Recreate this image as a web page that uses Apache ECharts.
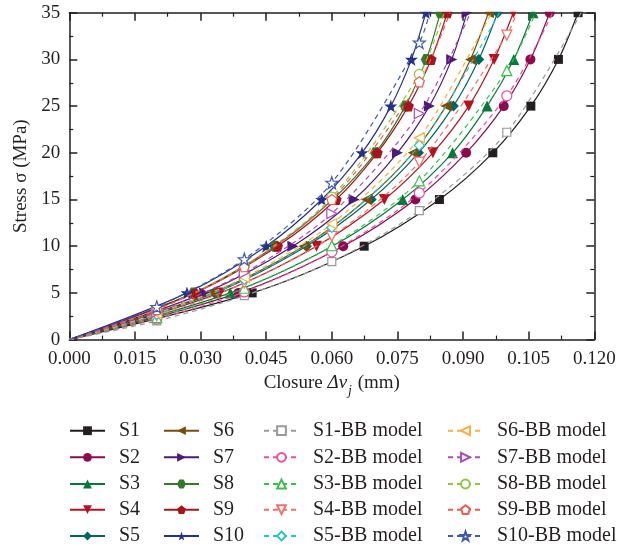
<!DOCTYPE html>
<html>
<head>
<meta charset="utf-8">
<script src="https://cdn.jsdelivr.net/npm/echarts@6/dist/echarts.min.js"></script>
<style>
  html, body { margin: 0; padding: 0; background: #ffffff; }
  #chart { width: 618px; height: 552px; }
</style>
</head>
<body>
<div id="chart"></div>
<script>
// Measured closure (mm) at each stress level (MPa) for the ten samples
const stressLevels = [0, 5, 10, 15, 20, 25, 30, 35];
const closureS1  = [0, 0.0418, 0.0674, 0.0846, 0.0968, 0.1055, 0.1118, 0.1163];
const closureS2  = [0, 0.0387, 0.0626, 0.0791, 0.0907, 0.0993, 0.1054, 0.1098];
const closureS3  = [0, 0.0368, 0.0601, 0.0762, 0.0876, 0.0955, 0.1016, 0.1060];
const closureS4  = [0, 0.0344, 0.0565, 0.0720, 0.0831, 0.0913, 0.0971, 0.1015];
const closureS5  = [0, 0.0332, 0.0542, 0.0690, 0.0798, 0.0878, 0.0936, 0.0979];
const closureS6  = [0, 0.0326, 0.0536, 0.0679, 0.0786, 0.0861, 0.0917, 0.0958];
const closureS7  = [0, 0.0309, 0.0511, 0.0651, 0.0750, 0.0823, 0.0874, 0.0909];
const closureS8  = [0, 0.0284, 0.0470, 0.0602, 0.0700, 0.0768, 0.0816, 0.0848];
const closureS9  = [0, 0.0287, 0.0476, 0.0610, 0.0704, 0.0775, 0.0827, 0.0864];
const closureS10 = [0, 0.0269, 0.0450, 0.0577, 0.0669, 0.0735, 0.0782, 0.0815];

// Bandis-Barton model stress (MPa) at fixed closure steps (mm)
const bbClosure = [0, 0.02, 0.04, 0.06, 0.08, 0.10];
const bbStressS1  = [0, 2.0, 4.7, 8.35, 13.8, 22.2];
const bbStressS2  = [0, 2.2, 5.1, 9.4, 15.7, 26.1];
const bbStressS3  = [0, 2.35, 5.5, 10.05, 17.0, 28.8];
const bbStressS4  = [0, 2.55, 6.05, 11.05, 19.0, 32.6];
const bbStressS5  = [0, 2.7, 6.45, 12.0, 20.8];
const bbStressS6  = [0, 2.8, 6.65, 12.4, 21.6];
const bbStressS7  = [0, 2.95, 7.15, 13.5, 24.2];
const bbStressS8  = [0, 3.2, 7.9, 15.25, 28.4];
const bbStressS9  = [0, 3.2, 7.8, 15.0, 27.6];
const bbStressS10 = [0, 3.5, 8.6, 16.8, 31.8];
// closure where each model curve reaches the 35 MPa top of the plot
const bbTopStress = 35;
const bbTopClosure = [0.1170, 0.1105, 0.1066, 0.1023, 0.0983, 0.0965, 0.0917, 0.0857, 0.0870, 0.0824];

// Axis ticks
const xTicks = { min: 0, max: 0.12, step: 0.015 };
const yTicks = { min: 0, max: 35, step: 5 };

const sampleNames = ['S1', 'S2', 'S3', 'S4', 'S5', 'S6', 'S7', 'S8', 'S9', 'S10'];
const testClosures = [closureS1, closureS2, closureS3, closureS4, closureS5,
                      closureS6, closureS7, closureS8, closureS9, closureS10];
const modelStresses = [bbStressS1, bbStressS2, bbStressS3, bbStressS4, bbStressS5,
                       bbStressS6, bbStressS7, bbStressS8, bbStressS9, bbStressS10];

const testColors  = ['#231f20', '#8a0b4e', '#08793a', '#b3141f', '#00655f',
                     '#7a4b0c', '#4c1b78', '#357a2c', '#a3161c', '#24308d'];
const modelColors = ['#9a9a9a', '#ef4c9b', '#3dbf4c', '#f2706a', '#27c4c4',
                     '#f9ae45', '#a94bbb', '#8dc63f', '#ef5b50', '#4159b1'];

const HEX  = 'path://M-5,-8.66 L5,-8.66 L10,0 L5,8.66 L-5,8.66 L-10,0 Z';
const PENT = 'path://M0,-10 L9.51,-3.09 L5.88,8.09 L-5.88,8.09 L-9.51,-3.09 Z';
const STAR = 'path://M0,-10 L2.351,-3.236 L9.511,-3.09 L3.804,1.236 L5.878,8.09 L0,4 L-5.878,8.09 L-3.804,1.236 L-9.511,-3.09 L-2.351,-3.236 Z';

const testSymbols  = ['rect', 'circle', 'triangle', 'triangle', 'diamond', 'triangle', 'triangle', HEX, PENT, STAR];
const modelSymbols = ['rect', 'circle', 'triangle', 'triangle', 'diamond', 'triangle', 'triangle', 'circle', PENT, STAR];
const symbolTurn   = [0, 0, 0, 180, 0, 90, -90, 0, 0, 0];
const testSizes    = [9, 10, 11, 11, 11, 11, 11, 11, 11, 13];
const modelSizes   = [8, 10, 10, 10, 10, 10, 10, 10, 10, 12];

const serif = '"Liberation Serif", "DejaVu Serif", serif';
const ink = '#231f20';

// the shared origin point is drawn without a marker
function asPoint(x, y) {
  return (x === 0 && y === 0) ? { value: [x, y], symbol: 'none' } : [x, y];
}

const series = [];
sampleNames.forEach(function (name, i) {
  series.push({
    name: name,
    type: 'line',
    smooth: 0.3,
    clip: true,
    symbol: testSymbols[i],
    symbolRotate: symbolTurn[i],
    symbolSize: testSizes[i],
    showAllSymbol: true,
    lineStyle: { color: testColors[i], width: 1.2 },
    itemStyle: { color: testColors[i] },
    data: testClosures[i].map(function (x, k) { return asPoint(x, stressLevels[k]); }),
    z: 3
  });
});
sampleNames.forEach(function (name, i) {
  const pts = modelStresses[i].map(function (s, k) { return asPoint(bbClosure[k], s); });
  pts.push({ value: [bbTopClosure[i], bbTopStress], symbol: 'none' });
  series.push({
    name: name + '-BB model',
    type: 'line',
    smooth: 0.3,
    clip: true,
    symbol: modelSymbols[i],
    symbolRotate: symbolTurn[i],
    symbolSize: modelSizes[i],
    showAllSymbol: true,
    lineStyle: { color: modelColors[i], width: 1.2, type: [5, 4] },
    itemStyle: { color: '#ffffff', borderColor: modelColors[i], borderWidth: 1.2 },
    data: pts,
    z: 4
  });
});

// one legend per entry, laid out as a 4 x 5 table
const legendColumnsX = [69, 163, 263, 447];
const legendRowsY = [430.7, 457.3, 484, 509.7, 536];
const legendNames = sampleNames.concat(sampleNames.map(function (n) { return n + '-BB model'; }));
const legends = legendNames.map(function (name, idx) {
  const col = Math.floor(idx / 5);
  const row = idx % 5;
  return {
    orient: 'vertical',
    left: legendColumnsX[col],
    top: legendRowsY[row] - 10,
    itemWidth: 35,
    itemHeight: 11,
    padding: 0,
    data: [name],
    textStyle: { fontFamily: serif, fontSize: 20, lineHeight: 20, color: ink, padding: [0, 0, 0, 9] }
  };
});

const axisLineStyle = { color: ink, width: 1.5 };
function makeXAxis(pos, withLabels) {
  return {
    type: 'value',
    position: pos,
    min: xTicks.min, max: xTicks.max, interval: xTicks.step,
    axisLine: { show: true, onZero: false, lineStyle: axisLineStyle },
    axisTick: { show: true, inside: true, length: 8, lineStyle: axisLineStyle },
    minorTick: { show: true, splitNumber: 2, length: 4, lineStyle: { color: ink, width: 1.2 } },
    splitLine: { show: false },
    axisLabel: {
      show: withLabels, margin: 10, color: ink, fontFamily: serif, fontSize: 19,
      showMinLabel: true, showMaxLabel: true,
      formatter: function (v) { return v.toFixed(3); }
    }
  };
}
function makeYAxis(pos, withLabels) {
  return {
    type: 'value',
    position: pos,
    min: yTicks.min, max: yTicks.max, interval: yTicks.step,
    axisLine: { show: true, onZero: false, lineStyle: axisLineStyle },
    axisTick: { show: true, inside: true, length: 8, lineStyle: axisLineStyle },
    minorTick: { show: true, splitNumber: 2, length: 4, lineStyle: { color: ink, width: 1.2 } },
    splitLine: { show: false },
    axisLabel: {
      show: withLabels, margin: 9, color: ink, fontFamily: serif, fontSize: 19,
      showMinLabel: true, showMaxLabel: true
    }
  };
}

const xMain = makeXAxis('bottom', true);
xMain.name = '{n|Closure }{i|Δv}{s|j}{n| (mm)}';
xMain.nameLocation = 'middle';
xMain.nameGap = 31;
xMain.nameTextStyle = {
  color: ink,
  rich: {
    n: { fontFamily: serif, fontSize: 19, color: ink, lineHeight: 22, verticalAlign: 'top' },
    i: { fontFamily: serif, fontSize: 19, color: ink, fontStyle: 'italic', lineHeight: 22, verticalAlign: 'top' },
    s: { fontFamily: serif, fontSize: 14, color: ink, fontStyle: 'italic', lineHeight: 14, verticalAlign: 'top', padding: [11, 1, 0, 1] }
  }
};
const xTop = makeXAxis('top', false);

const yMain = makeYAxis('left', true);
yMain.name = 'Stress σ (MPa)';
yMain.nameLocation = 'middle';
yMain.nameGap = 37;
yMain.nameTextStyle = { fontFamily: serif, fontSize: 19, color: ink };
const yRight = makeYAxis('right', false);

const chart = echarts.init(document.getElementById('chart'), null, { renderer: 'canvas' });
chart.setOption({
  animation: false,
  backgroundColor: '#ffffff',
  grid: { left: 69.3, right: 23.7, top: 12.7, bottom: 212.4, containLabel: false, outerBoundsMode: 'none' },
  xAxis: [xMain, xTop],
  yAxis: [yMain, yRight],
  legend: legends,
  // white band above the frame hides the upper halves of markers sitting on the 35 MPa edge
  graphic: [{
    type: 'rect', left: 71, top: 0, z: 50,
    shape: { width: 522, height: 11.8 },
    style: { fill: '#ffffff' }
  }],
  series: series
});
</script>
</body>
</html>
